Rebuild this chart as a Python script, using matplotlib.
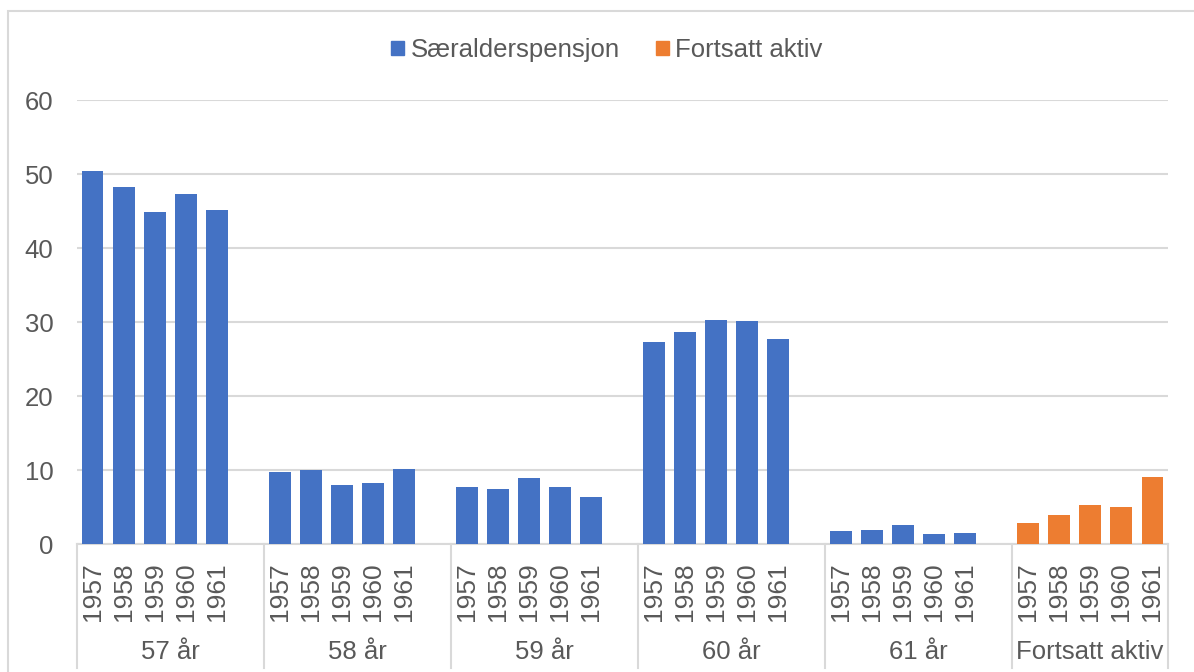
import matplotlib
matplotlib.use("Agg")
import matplotlib.pyplot as plt
from matplotlib.patches import Patch, Rectangle
import matplotlib.transforms as mtransforms

plt.rcParams['font.family'] = ['Liberation Sans', 'DejaVu Sans']

years = ['1957', '1958', '1959', '1960', '1961']
groups = ['57 år', '58 år', '59 år', '60 år', '61 år', 'Fortsatt aktiv']
age57 = [50.4, 48.2, 44.8, 47.3, 45.1]
age58 = [9.7, 10.0, 8.0, 8.3, 10.1]
age59 = [7.7, 7.4, 8.9, 7.7, 6.4]
age60 = [27.3, 28.6, 30.3, 30.2, 27.7]
age61 = [1.7, 1.9, 2.6, 1.4, 1.5]
fortsatt_aktiv = [2.9, 3.9, 5.3, 5.0, 9.1]

blue = '#4472C4'
orange = '#ED7D31'
grid_c = '#D9D9D9'
text_c = '#595959'

W, H = 1194, 672
fig = plt.figure(figsize=(W / 100, H / 100), dpi=100)
ax = fig.add_axes([77 / W, (H - 544) / H, (1168 - 77) / W, (544 - 100) / H])

series = [age57, age58, age59, age60, age61, fortsatt_aktiv]
slot = 6  # 5 years + one blank slot between groups
positions = []
labels = []
for gi, vals in enumerate(series):
    xs = [gi * slot + k for k in range(len(years))]
    color = orange if gi == len(series) - 1 else blue
    ax.bar(xs, vals, width=0.7, color=color, zorder=3)
    positions += xs
    labels += years

n_slots = slot * (len(groups) - 1) + len(years)
ax.set_xlim(-0.5, n_slots - 0.5)
ax.set_ylim(0, 60)
ax.set_yticks(range(0, 61, 10))
ax.yaxis.grid(True, color=grid_c, linewidth=1.5, zorder=0)
ax.set_axisbelow(True)
for s in ['top', 'right', 'left']:
    ax.spines[s].set_visible(False)
ax.spines['bottom'].set_color(grid_c)
ax.spines['bottom'].set_linewidth(1.5)
ax.tick_params(axis='y', length=0, labelsize=18.5, labelcolor=text_c, pad=17)
ax.tick_params(axis='x', length=0, labelsize=19, labelcolor=text_c, pad=13)
ax.set_xticks(positions)
ax.set_xticklabels(labels, rotation=90, va='top', ha='center')

trans = mtransforms.blended_transform_factory(ax.transData, ax.transAxes)
ax_h = 544 - 100
bottom_y = -(668 - 544) / ax_h
label_y = -(652 - 544) / ax_h
bounds = [-0.5] + [gi * slot + 5.5 for gi in range(len(groups) - 1)] + [n_slots - 0.5]
for b in bounds:
    ax.plot([b, b], [0, bottom_y], transform=trans, color=grid_c, lw=1.5, clip_on=False)
for gi, g in enumerate(groups):
    cx = (bounds[gi] + bounds[gi + 1]) / 2
    ax.text(cx, label_y, g, transform=trans, ha='center', va='center',
            fontsize=18.5, color=text_c)

handles = [Patch(color=blue, label='Særalderspensjon'),
           Patch(color=orange, label='Fortsatt aktiv')]
fig.legend(handles=handles, loc='center', bbox_to_anchor=(607 / W, 1 - 50 / H),
           ncol=2, frameon=False, fontsize=18.5, handlelength=0.5, handleheight=0.5,
           handletextpad=0.25, columnspacing=1.4, labelcolor=text_c)

fig.patches.append(Rectangle((8 / W, -0.05), 1.2, 1.05 - 11 / H, transform=fig.transFigure,
                             fill=False, edgecolor=grid_c, linewidth=1.5))

fig.savefig('out.png', dpi=100)
